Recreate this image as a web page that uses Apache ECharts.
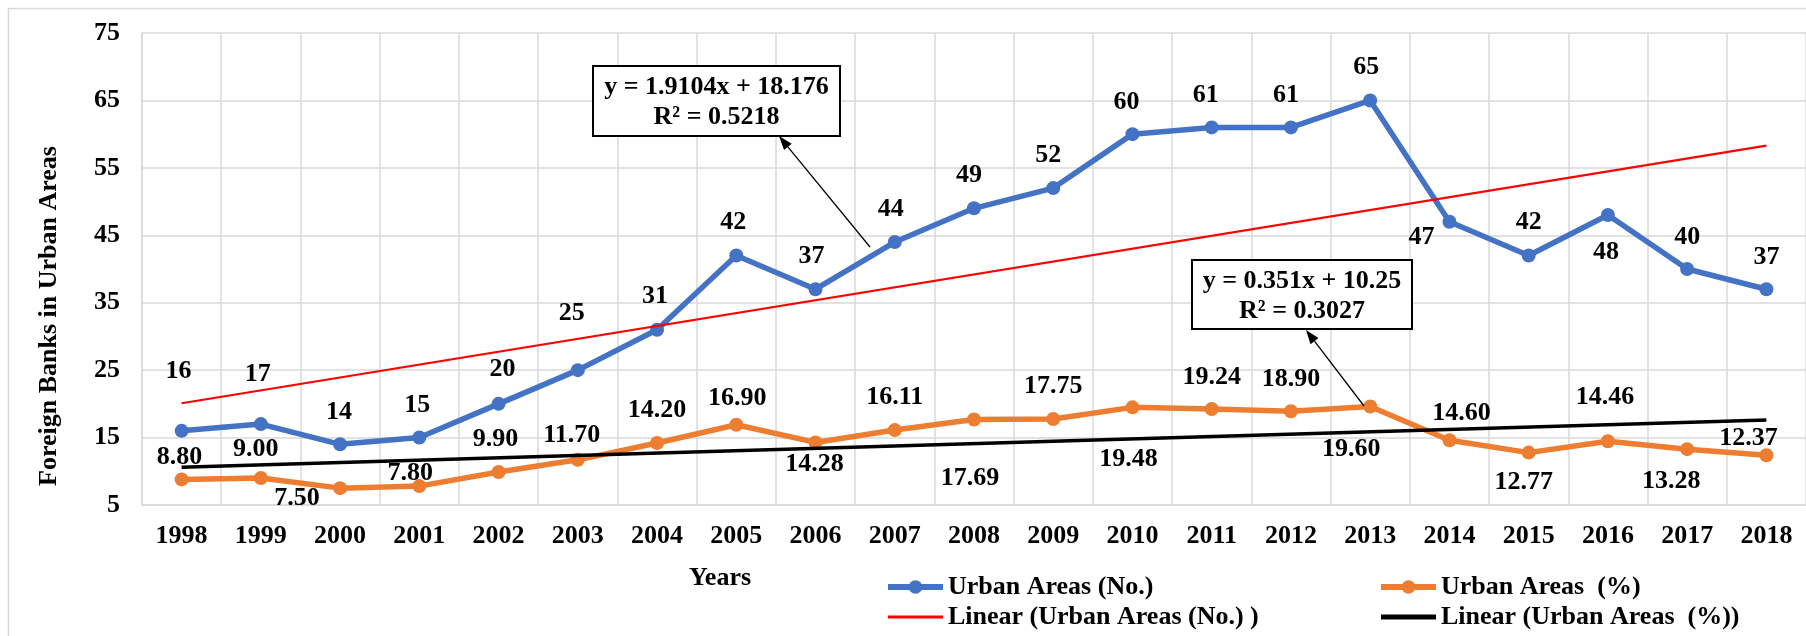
<!DOCTYPE html>
<html>
<head>
<meta charset="utf-8">
<script src="https://cdn.jsdelivr.net/npm/echarts@6/dist/echarts.min.js"></script>
<style>
  html, body { margin: 0; padding: 0; background: #fff; }
  #chart { width: 1806px; height: 636px; }
</style>
</head>
<body>
<div id="chart"></div>
<script>
// data
const years = ["1998", "1999", "2000", "2001", "2002", "2003", "2004", "2005", "2006", "2007",
  "2008", "2009", "2010", "2011", "2012", "2013", "2014", "2015", "2016", "2017", "2018"];
const urbanNo = [16, 17, 14, 15, 20, 25, 31, 42, 37, 44, 49, 52, 60, 61, 61, 65, 47, 42, 48, 40, 37];
const urbanPct = [8.8, 9.0, 7.5, 7.8, 9.9, 11.7, 14.2, 16.9, 14.28, 16.11, 17.69, 17.75, 19.48,
  19.24, 18.9, 19.6, 14.6, 12.77, 14.46, 13.28, 12.37];
// Excel trendline equations shown in the boxes
const trendNo = { slope: 1.9104, intercept: 18.176, r2: "0.5218" };
const trendPct = { slope: 0.351, intercept: 10.25, r2: "0.3027" };
const yTicks = { min: 5, max: 75, step: 10 };

// where each data label sits relative to its point (styling only)
const noLabelShift = [[-3, -60], [-3, -50], [-1, -32], [-2, -32], [4, -35], [-6, -57], [-2, -33],
  [-3, -33], [-4, -33], [-4, -33], [-5, -33], [-5, -33], [-6, -32], [-6, -32], [-5, -32], [-4, -33],
  [-28, 15], [0, -33], [-2, 37], [0, -32], [0, -32]];
const pctLabelShift = [[-2, -22], [-5, -29], [-43, 10], [-9, -13], [-3, -33], [-6, -25], [0, -33],
  [1, -26], [-1, 22], [0, -33], [-4, 59], [0, -33], [-4, 52], [0, -32], [0, -32], [-19, 43],
  [12, -27], [-5, 30], [-3, -44], [-16, 32], [-18, -17]];

const FONT = '"Liberation Serif", "Times New Roman", serif';
const BLUE = "#4472C4", ORANGE = "#ED7D31", GRID = "#d9d9d9";

const trendPoints = (t) => [
  [years[0], t.slope * 1 + t.intercept],
  [years[years.length - 1], t.slope * years.length + t.intercept]
];

const labelBase = {
  show: true, position: "inside", color: "#000", fontFamily: FONT,
  fontWeight: "bold", fontSize: 26
};

const chart = echarts.init(document.getElementById("chart"));

function arrow(x1, y1, x2, y2) {
  const a = Math.atan2(y2 - y1, x2 - x1), L = 14, W = 5;
  const bx = x2 - L * Math.cos(a), by = y2 - L * Math.sin(a);
  return [
    { type: "line", shape: { x1, y1, x2: bx, y2: by }, style: { stroke: "#000", lineWidth: 1.3 }, z: 100 },
    { type: "polygon", shape: { points: [[x2, y2],
        [bx + W * Math.sin(a), by - W * Math.cos(a)], [bx - W * Math.sin(a), by + W * Math.cos(a)]] },
      style: { fill: "#000" }, z: 100 }
  ];
}

function eqBox(x, y, w, h, t) {
  const cx = x + w / 2;
  const font = "bold 26px " + FONT;
  return [
    { type: "rect", shape: { x, y, width: w, height: h }, style: { fill: "#fff", stroke: "#000", lineWidth: 2 }, z: 100 },
    { type: "text", x: cx, y: y + 21, style: { text: "y = " + t.slope + "x + " + t.intercept, font, fill: "#000", align: "center", verticalAlign: "middle" }, z: 101 },
    { type: "text", x: cx, y: y + 51, style: { text: "R² = " + t.r2, font, fill: "#000", align: "center", verticalAlign: "middle" }, z: 101 }
  ];
}

const legendText = { color: "#000", fontFamily: FONT, fontWeight: "bold", fontSize: 26, lineHeight: 28 };
const legendBase = {
  top: 573, orient: "vertical", height: 90, padding: 0,
  itemWidth: 55, itemHeight: 17, itemGap: 2, textStyle: legendText
};
const seriesKey = (name) => ({ name, lineStyle: { width: 6 } });
const trendKey = (name, w) => ({ name, lineStyle: { width: w }, itemStyle: { color: "rgba(0,0,0,0)", borderWidth: 0 } });

const option = {
  animation: false,
  backgroundColor: "#fff",
  grid: { left: 142, top: 33, width: 1672, height: 472 },
  legend: [
    { ...legendBase, left: 885,
      data: [seriesKey("Urban Areas (No.)"), trendKey("Linear (Urban Areas (No.) )", 3)] },
    { ...legendBase, left: 1378,
      data: [seriesKey("Urban Areas  (%)"), trendKey("Linear (Urban Areas  (%))", 5)] }
  ],
  xAxis: {
    type: "category",
    data: years,
    boundaryGap: true,
    axisLine: { lineStyle: { color: GRID, width: 1.5 } },
    axisTick: { show: false },
    splitLine: { show: true, interval: 0, lineStyle: { color: GRID, width: 1.5 } },
    axisLabel: { color: "#000", fontFamily: FONT, fontWeight: "bold", fontSize: 26, margin: 18, interval: 0 }
  },
  yAxis: {
    type: "value",
    min: yTicks.min, max: yTicks.max, interval: yTicks.step,
    axisLine: { show: true, lineStyle: { color: GRID, width: 1.5 } },
    axisTick: { show: false },
    splitLine: { lineStyle: { color: GRID, width: 1.5 } },
    axisLabel: { color: "#000", fontFamily: FONT, fontWeight: "bold", fontSize: 26, margin: 22 }
  },
  series: [
    {
      name: "Urban Areas (No.)", type: "line", z: 2,
      symbol: "circle", symbolSize: 14,
      itemStyle: { color: BLUE }, lineStyle: { color: BLUE, width: 5.5 },
      label: { ...labelBase, formatter: (p) => String(p.value) },
      data: urbanNo.map((v, i) => ({ value: v, label: { offset: noLabelShift[i] } }))
    },
    {
      name: "Urban Areas  (%)", type: "line", z: 2,
      symbol: "circle", symbolSize: 14,
      itemStyle: { color: ORANGE }, lineStyle: { color: ORANGE, width: 5.5 },
      label: { ...labelBase, formatter: (p) => Number(p.value).toFixed(2) },
      data: urbanPct.map((v, i) => ({ value: v, label: { offset: pctLabelShift[i] } }))
    },
    {
      name: "Linear (Urban Areas (No.) )", type: "line", z: 3,
      symbol: "none", itemStyle: { color: "#FF0000" }, lineStyle: { color: "#FF0000", width: 2.2 },
      data: trendPoints(trendNo)
    },
    {
      name: "Linear (Urban Areas  (%))", type: "line", z: 3,
      symbol: "none", itemStyle: { color: "#000" }, lineStyle: { color: "#000", width: 3.5 },
      data: trendPoints(trendPct)
    }
  ],
  graphic: [
    { type: "rect", shape: { x: 8.5, y: 8.5, width: 1900, height: 700 },
      style: { fill: "none", stroke: GRID, lineWidth: 1.5 }, z: -1, silent: true },
    { type: "text", x: 49, y: 316, rotation: Math.PI / 2,
      style: { text: "Foreign Banks in Urban Areas", font: "bold 26px " + FONT, fill: "#000", align: "center", verticalAlign: "middle" } },
    { type: "text", x: 720, y: 578,
      style: { text: "Years", font: "bold 26px " + FONT, fill: "#000", align: "center", verticalAlign: "middle" } },
    ...arrow(870, 247, 779, 136),
    ...arrow(1364, 406, 1306, 330),
    ...eqBox(593, 66, 247, 70, trendNo),
    ...eqBox(1192, 260, 220, 69, trendPct)
  ]
};

chart.setOption(option);
</script>
</body>
</html>
